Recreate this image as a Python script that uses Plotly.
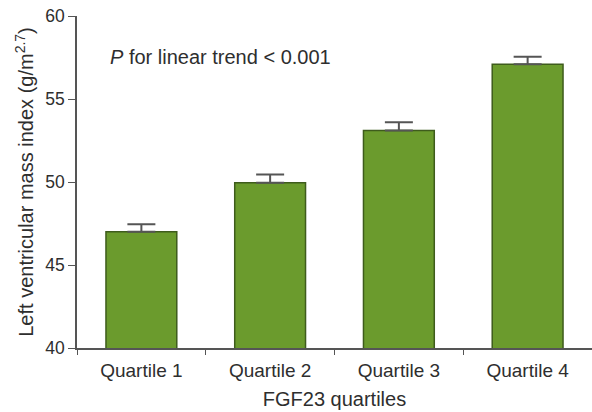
import plotly.graph_objects as go

# Left ventricular mass index by FGF23 quartile (mean with upper SE)
quartiles = ["Quartile 1", "Quartile 2", "Quartile 3", "Quartile 4"]
lvmi_mean = [47.0, 49.95, 53.1, 57.1]
lvmi_se = [0.45, 0.5, 0.5, 0.45]
y_ticks = [40, 45, 50, 55, 60]

font_family = "Liberation Sans, Arial, Helvetica, sans-serif"
text_color = "#2e2e2e"
axis_color = "#555555"

fig = go.Figure(
    go.Bar(
        x=quartiles,
        y=lvmi_mean,
        base=0,
        width=0.55,
        marker=dict(color="#6b9b2d", line=dict(color="#3e5c1c", width=1.5)),
        error_y=dict(
            type="data",
            array=lvmi_se,
            arrayminus=[0] * len(lvmi_se),
            symmetric=False,
            color="#555555",
            thickness=2,
            width=14,
        ),
    )
)

plot_left, plot_top, plot_bottom = 77, 16, 64
plot_w = 592 - plot_left
plot_h = 412 - plot_top - plot_bottom

fig.update_layout(
    width=592,
    height=412,
    margin=dict(l=plot_left, r=0, t=plot_top, b=plot_bottom),
    paper_bgcolor="white",
    plot_bgcolor="white",
    showlegend=False,
    font=dict(family=font_family, color=text_color, size=17),
    annotations=[
        dict(
            text="<i>P</i> for linear trend < 0.001",
            x=(108 - plot_left) / plot_w,
            y=1 - (57 - plot_top) / plot_h,
            xref="paper",
            yref="paper",
            showarrow=False,
            font=dict(size=20, color=text_color),
            xanchor="left",
            yanchor="middle",
        )
    ],
)

fig.update_xaxes(
    range=[-0.5, 3.5],
    showline=True,
    linecolor=axis_color,
    linewidth=1.5,
    ticks="outside",
    tickson="boundaries",
    ticklen=5,
    tickcolor=axis_color,
    ticklabelstandoff=4,
    tickfont=dict(size=19, color=text_color),
    title=dict(text="FGF23 quartiles", font=dict(size=20, color=text_color), standoff=12),
    showgrid=False,
)

fig.update_yaxes(
    range=[40, 60],
    tickvals=y_ticks,
    showline=True,
    linecolor=axis_color,
    linewidth=1.5,
    ticks="outside",
    ticklen=7,
    tickcolor=axis_color,
    tickfont=dict(size=17.5, color=text_color),
    title=dict(
        text="Left ventricular mass index (g/m<sup>2.7</sup>)",
        font=dict(size=20, color=text_color),
        standoff=6,
    ),
    showgrid=False,
    zeroline=False,
)

fig.write_html("out.html")
